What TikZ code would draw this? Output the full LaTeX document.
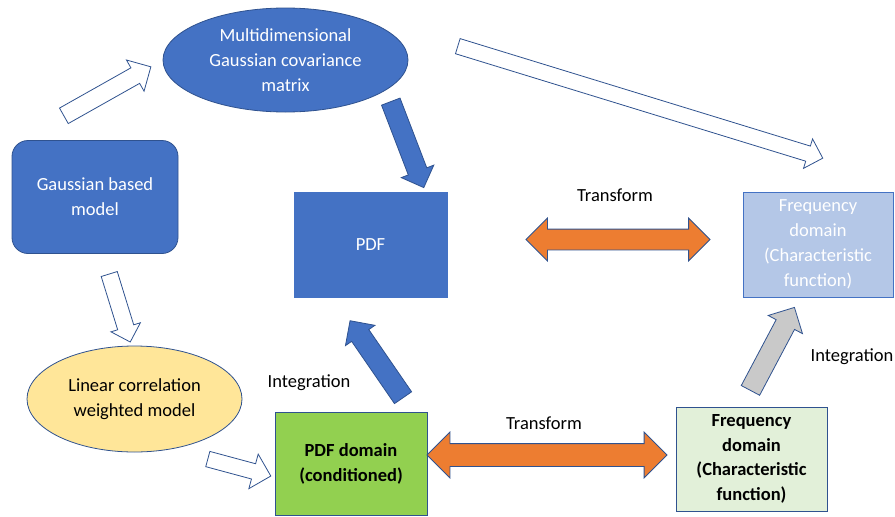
\documentclass[tikz,border=0pt]{standalone}
\usepackage{fontspec}
\setmainfont{Carlito}
\usetikzlibrary{shapes.geometric,shapes.arrows,calc}
\definecolor{msblue}{HTML}{4472C4}
\definecolor{msedge}{HTML}{2F528F}
\definecolor{lightblue}{HTML}{B4C7E7}
\definecolor{msyellow}{HTML}{FFE699}
\definecolor{msgreen}{HTML}{92D050}
\definecolor{palegreen}{HTML}{E2F0D9}
\definecolor{msorange}{HTML}{ED7D31}
\definecolor{msgray}{HTML}{C9C9C9}
\tikzset{
  box/.style={draw=msedge, line width=0.8pt, align=center, inner sep=0pt,
    font=\fontsize{18.5}{25}\selectfont},
  lbl/.style={font=\fontsize{18.5}{25}\selectfont},
  hollow/.style={single arrow, draw=msedge, fill=white, line width=0.8pt},
  solid/.style={single arrow, draw=msedge, fill=#1, line width=0.8pt},
  twoway/.style={double arrow, draw=msedge, fill=msorange, line width=0.8pt}
}
\begin{document}
\begin{tikzpicture}[x=1pt,y=-1pt]
\useasboundingbox (0,0) rectangle (895,517);
% boxes
\node[box, rounded corners=16pt, fill=msblue, text=white, minimum width=166pt, minimum height=113pt] (gauss) at (95,197) {Gaussian based\\model};
\node[box, ellipse, fill=msblue, text=white, minimum width=245pt, minimum height=104pt] (cov) at (285.5,60) {Multidimensional\\Gaussian covariance\\matrix};
\node[box, draw=msblue, fill=msblue, text=white, minimum width=153pt, minimum height=105pt] (pdf) at (370.5,244.5) {PDF};
\node[box, draw=msblue, fill=lightblue, text=white, minimum width=150pt, minimum height=105pt] (freq) at (818,244.5) {Frequency\\domain\\(Characteristic\\function)};
\node[box, ellipse, fill=msyellow, minimum width=215pt, minimum height=106pt] (linear) at (134.5,399) {Linear correlation\\weighted model};
\node[box, fill=msgreen, font=\fontsize{18.5}{25}\selectfont\bfseries, minimum width=152pt, minimum height=103pt] (pdfc) at (351,463.5) {PDF domain\\(conditioned)};
\node[box, fill=palegreen, font=\fontsize{18.5}{24.5}\selectfont\bfseries, minimum width=151pt, minimum height=104pt] (freqc) at (751.5,459) {Frequency\\domain\\(Characteristic\\function)};
% labels
\node[lbl] (tr1) at (615,195) {Transform};
\node[lbl] (int1) at (309,383) {Integration};
\node[lbl] (tr2) at (544,423) {Transform};
\node[lbl] (int2) at (852,357) {Integration};
% arrow ends
\coordinate (g1) at (60,118);   \coordinate (g2) at (147,69);
\coordinate (c1) at (454,45);   \coordinate (c2) at (819,157);
\coordinate (d1) at (108,270);  \coordinate (d2) at (129,338);
\coordinate (l1) at (204,458);  \coordinate (l2) at (267,475);
\coordinate (m1) at (389,97);   \coordinate (m2) at (422,183);
\coordinate (p1) at (406,402);  \coordinate (p2) at (353,325);
\coordinate (f1) at (748,395);  \coordinate (f2) at (792,312);
% block arrows
\path let \p1=($(g2)-(g1)$) in node[hollow, inner sep=8.5pt, single arrow head extend=9pt, rotate={atan2(\y1,\x1)}, minimum height={veclen(\x1,\y1)}] (gc) at ($(g1)!0.5!(g2)$) {};
\path let \p1=($(c2)-(c1)$) in node[hollow, inner sep=7.5pt, single arrow head extend=7.5pt, rotate={atan2(\y1,\x1)}, minimum height={veclen(\x1,\y1)}] (cf) at ($(c1)!0.5!(c2)$) {};
\path let \p1=($(d2)-(d1)$) in node[hollow, inner sep=8pt, single arrow head extend=7pt, rotate={atan2(\y1,\x1)}, minimum height={veclen(\x1,\y1)}] (gl) at ($(d1)!0.5!(d2)$) {};
\path let \p1=($(l2)-(l1)$) in node[hollow, inner sep=7.5pt, single arrow head extend=10pt, rotate={atan2(\y1,\x1)}, minimum height={veclen(\x1,\y1)}] (lp) at ($(l1)!0.5!(l2)$) {};
\path let \p1=($(m2)-(m1)$) in node[solid=msblue, inner sep=9.5pt, single arrow head extend=7.5pt, rotate={atan2(\y1,\x1)}, minimum height={veclen(\x1,\y1)}] (cp) at ($(m1)!0.5!(m2)$) {};
\path let \p1=($(p2)-(p1)$) in node[solid=msblue, inner sep=10pt, single arrow head extend=7.5pt, rotate={atan2(\y1,\x1)}, minimum height={veclen(\x1,\y1)}] (pp) at ($(p1)!0.5!(p2)$) {};
\path let \p1=($(f2)-(f1)$) in node[solid=msgray, inner sep=10pt, single arrow head extend=9pt, rotate={atan2(\y1,\x1)}, minimum height={veclen(\x1,\y1)}] (ff) at ($(f1)!0.5!(f2)$) {};
\node[twoway, inner sep=10pt, double arrow head extend=11pt, minimum height=184pt] (pf) at (618,239.5) {};
\node[twoway, inner sep=11pt, double arrow head extend=11.5pt, minimum height=240pt] (pcf) at (547,455) {};
\end{tikzpicture}
\end{document}
